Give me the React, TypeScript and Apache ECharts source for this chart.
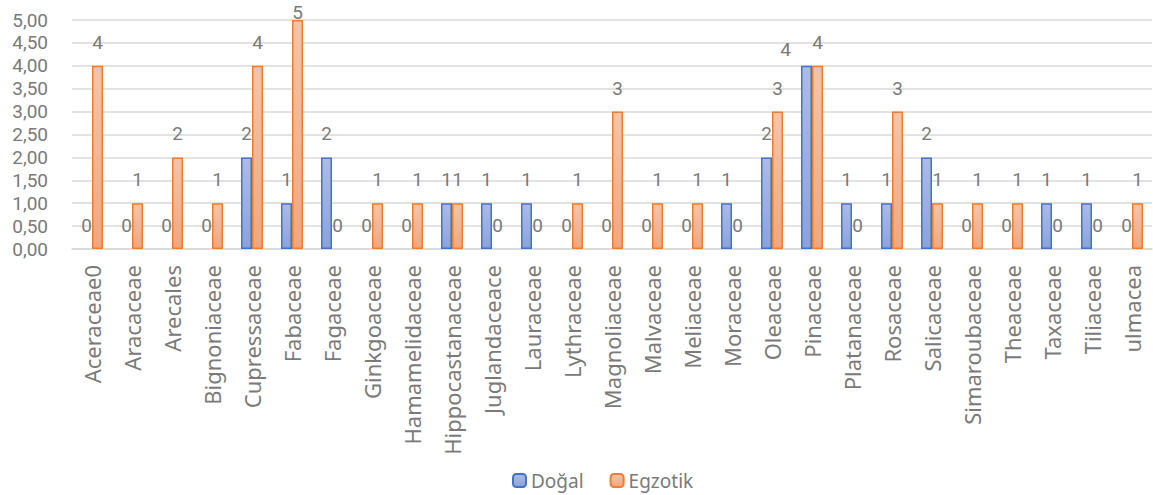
import React, { useEffect, useRef } from "react";
import * as echarts from "echarts";

const categories = [
  "Aceraceae0", "Aracaceae", "Arecales", "Bignoniaceae", "Cupressaceae", "Fabaceae",
  "Fagaceae", "Ginkgoaceae", "Hamamelidaceae", "Hippocastanaceae", "Juglandaceace",
  "Lauraceae", "Lythraceae", "Magnoliaceae", "Malvaceae", "Meliaceae", "Moraceae",
  "Oleaceae", "Pinaceae", "Platanaceae", "Rosaceae", "Salicaceae", "Simaroubaceae",
  "Theaceae", "Taxaceae", "Tiliaceae", "ulmacea",
];
const dogal = [0, 0, 0, 0, 2, 1, 2, 0, 0, 1, 1, 1, 0, 0, 0, 0, 1, 2, 4, 1, 1, 2, 0, 0, 1, 1, 0];
const egzotik = [4, 1, 2, 1, 4, 5, 0, 1, 1, 1, 0, 0, 1, 3, 1, 1, 0, 3, 4, 0, 3, 1, 1, 1, 0, 0, 1];
const seriesNames = ["Doğal", "Egzotik"];
const Y_MAX = 5;
// the Doğal label of this category is moved aside in the original chart
const MOVED_LABEL_CATEGORY = "Pinaceae";

const FONT = "Noto Sans";
const NUM_FONT = "Roboto";
const GRAY = "#7a7a7a";

export default function App() {
  const ref = useRef<HTMLDivElement>(null);
  useEffect(() => {
    if (!ref.current) return;
    const chart = echarts.init(ref.current, undefined, { renderer: "svg" });
    const blueFill = new echarts.graphic.LinearGradient(0, 0, 0, 1, [
      { offset: 0, color: "#adbce4" },
      { offset: 1, color: "#8ba2da" },
    ]);
    const orangeFill = new echarts.graphic.LinearGradient(0, 0, 0, 1, [
      { offset: 0, color: "#f8c4a6" },
      { offset: 1, color: "#f4a57e" },
    ]);
    const label = {
      show: true,
      position: "top",
      distance: 14,
      color: GRAY,
      fontSize: 19,
      fontFamily: NUM_FONT,
    };
    const movedIdx = categories.indexOf(MOVED_LABEL_CATEGORY);
    const toData = (arr: number[]) =>
      arr.map((v) => {
        if (v === 0) return { value: v, itemStyle: { borderWidth: 0 } };
        if (v >= Y_MAX) return { value: v, label: { distance: -2 } };
        return v;
      });
    chart.setOption({
      animation: false,
      textStyle: { fontFamily: FONT },
      grid: { left: 72, right: 1, top: 20, bottom: 246, containLabel: false },
      legend: {
        data: seriesNames,
        left: 507,
        top: 466,
        itemWidth: 13,
        itemHeight: 13,
        itemGap: 26,
        textStyle: { color: GRAY, fontSize: 19, lineHeight: 18, fontFamily: FONT },
      },
      labelLayout: (params: any) => {
        if (params.seriesIndex === 0 && params.dataIndex === movedIdx) {
          return { dx: -21, dy: 7 };
        }
        return {};
      },
      xAxis: {
        type: "category",
        data: categories,
        axisLine: { show: true, lineStyle: { color: "#d9d9d9", width: 1.5 } },
        axisTick: { show: false },
        axisLabel: {
          rotate: 90,
          interval: 0,
          margin: 16,
          color: GRAY,
          fontSize: 22,
          fontFamily: FONT,
        },
      },
      yAxis: {
        type: "value",
        min: 0,
        max: Y_MAX,
        interval: 0.5,
        axisLine: { show: false },
        axisTick: { show: false },
        splitLine: { lineStyle: { color: "#d9d9d9", width: 1.5 } },
        axisLabel: {
          margin: 24,
          color: GRAY,
          fontSize: 19,
          fontFamily: NUM_FONT,
          formatter: (v: number) => v.toFixed(2).replace(".", ","),
        },
      },
      series: [
        {
          name: seriesNames[0],
          type: "bar",
          data: toData(dogal),
          barWidth: 11,
          barGap: "0%",
          itemStyle: { color: blueFill, borderColor: "#4472c4", borderWidth: 1.5 },
          label,
        },
        {
          name: seriesNames[1],
          type: "bar",
          data: toData(egzotik),
          barWidth: 11,
          barGap: "0%",
          itemStyle: { color: orangeFill, borderColor: "#ed7d31", borderWidth: 1.5 },
          label,
        },
      ],
    });
    return () => chart.dispose();
  }, []);
  return <div ref={ref} style={{ width: 1153, height: 495, position: "absolute", left: 0, top: 0 }} />;
}
